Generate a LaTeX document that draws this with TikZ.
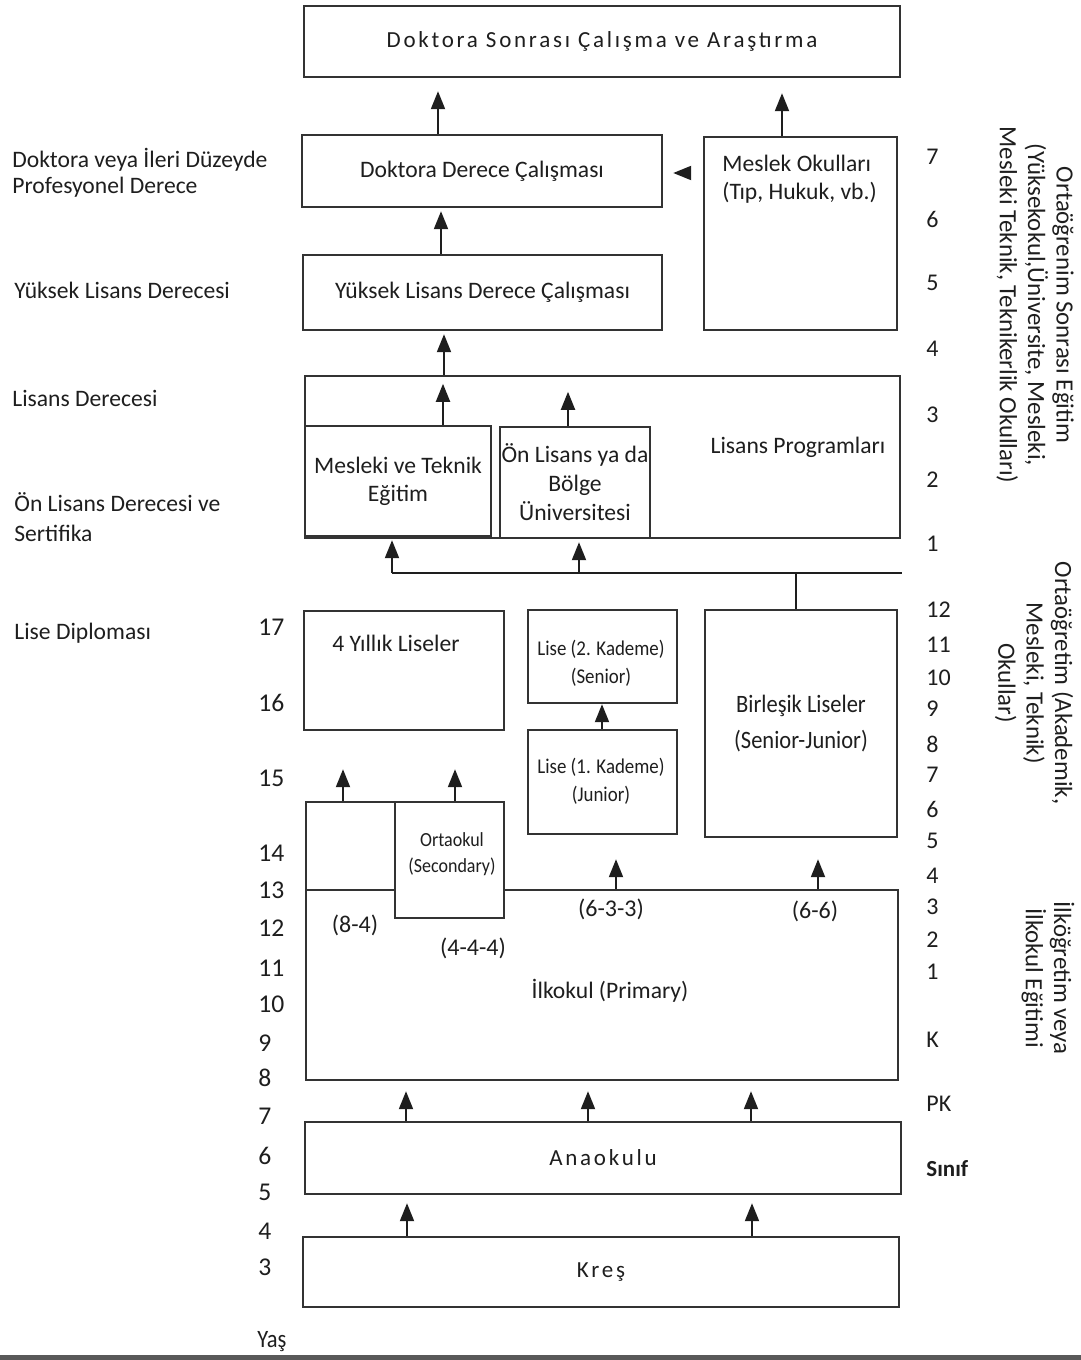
\documentclass[tikz,border=0pt]{standalone}
\usepackage{fontspec}
\setmainfont{Carlito}
\newfontfamily\spacedf[LetterSpace=12]{Carlito}
\newfontfamily\condf[FakeStretch=0.9]{Carlito}
\usetikzlibrary{arrows.meta}
\definecolor{ink}{HTML}{1E1E1E}
\definecolor{edge}{HTML}{333333}
\begin{document}
\begin{tikzpicture}[x=0.5pt,y=-0.5pt,
  box/.style={draw=edge,line width=1.2pt,fill=white,inner sep=0pt,font=\fontsize{11.8}{14}\selectfont,text=ink,align=center},
  sz/.style 2 args={minimum width=#1,minimum height=#2},
  arr/.style={draw=ink,line width=1pt,-{Triangle[length=9pt,width=7pt]}},
  conn/.style={draw=ink,line width=1pt},
  txt/.style={text=ink,font=\fontsize{11.8}{14}\selectfont,align=center,inner sep=0pt},
  lbl/.style={text=ink,font=\fontsize{11.8}{13}\selectfont,align=left,anchor=west,inner sep=0pt},
  age/.style={text=ink,font=\fontsize{12.8}{14}\selectfont,anchor=west,inner sep=0pt},
  grade/.style={text=ink,font=\fontsize{12}{14}\selectfont,anchor=west,inner sep=0pt},
  side/.style={text=ink,font=\fontsize{12.4}{14.2}\selectfont,align=center,rotate=-90,inner sep=0pt},
  spaced/.style={font={\spacedf\fontsize{11.5}{13}\selectfont}},
  small/.style={font={\condf\fontsize{10.5}{14}\selectfont}},
]
\useasboundingbox (0,0) rectangle (1081,1360);
\fill[black!65] (0,1355) rectangle (1081,1360);

% ---------- boxes ----------
\node[box,spaced,sz={298pt}{35.5pt}] (post) at (602,41.5) {Doktora Sonrası Çalışma ve Araştırma};
\node[box,sz={180pt}{36pt}] (dr) at (482,171) {Doktora Derece Çalışması};
\node[box,sz={96.5pt}{96.5pt}] (prof) at (800.5,233.5) {};
\node[txt,align=left,anchor=west] (proft) at (722,179) {Meslek Okulları\\(Tıp, Hukuk, vb.)};
\node[box,sz={179.5pt}{37.5pt}] (ms) at (482.5,292.5) {Yüksek Lisans Derece Çalışması};
\node[box,sz={297.5pt}{81pt}] (lic) at (602.5,457) {};
\node[txt] (lict) at (798,447) {Lisans Programları};
\node[box,sz={93pt}{55pt}] (voc) at (398,481) {Mesleki ve Teknik\\Eğitim};
\node[box,font=\fontsize{11.8}{14.5}\selectfont,sz={75pt}{55.5pt}] (assoc) at (575,482.5) {Ön Lisans ya da\\Bölge\\Üniversitesi};

\node[box,sz={100pt}{59.5pt}] (hs4) at (404,670.5) {};
\node[txt] (hs4t) at (396,643) {4 Yıllık Liseler};
\node[box,sz={74.5pt}{46.5pt}] (sr) at (602.5,656.5) {};
\node[txt,small] (srt) at (601,663) {Lise (2. Kademe)\\(Senior)};
\node[box,sz={74.5pt}{52pt}] (jr) at (602.5,782) {};
\node[txt,small] (jrt) at (601,781) {Lise (1. Kademe)\\(Junior)};
\node[box,font={\condf\fontsize{12.5}{18}\selectfont},sz={96pt}{113.5pt}] (comb) at (801,723.5) {Birleşik Liseler\\(Senior-Junior)};

\node[box,sz={296pt}{95pt}] (prim) at (602,985) {};
\node[box,sz={44.5pt}{44pt}] (mid) at (350.5,846) {};
\node[box,sz={54.5pt}{58pt}] (orta) at (449.5,860) {};
\node[txt,font={\condf\fontsize{10}{13}\selectfont}] (ortat) at (452,854) {Ortaokul\\(Secondary)};
\node[txt,font=\fontsize{12}{14}\selectfont] (p84) at (355,925) {(8-4)};
\node[txt,font=\fontsize{12}{14}\selectfont] (p444) at (473,948) {(4-4-4)};
\node[txt,font=\fontsize{12}{14}\selectfont] (p633) at (611,909) {(6-3-3)};
\node[txt,font=\fontsize{12}{14}\selectfont] (p66) at (815,911) {(6-6)};
\node[txt] (primt) at (610,991) {İlkokul (Primary)};

\node[box,spaced,sz={298pt}{36pt}] (kg) at (603,1158) {Anaokulu};
\node[box,spaced,sz={298pt}{35pt}] (nur) at (601,1272) {Kreş};

% ---------- connectors ----------
\draw[arr,shorten >=6.5pt] (438,0 |- dr.north) -- (438,0 |- post.south);
\draw[arr,shorten >=7.5pt] (782,0 |- prof.north) -- (782,0 |- post.south);
\draw[arr,shorten <=7pt,shorten >=5pt] (0,173 -| prof.west) -- (0,173 -| dr.east);
\draw[arr,shorten >=1.5pt] (441,0 |- ms.north) -- (441,0 |- dr.south);
\draw[arr,shorten >=1.5pt] (444,0 |- lic.north) -- (444,0 |- ms.south);
\draw[arr,shorten >=4.5pt] (443,0 |- voc.north) -- (443,0 |- lic.north);
\draw[arr,shorten >=8.5pt] (568,0 |- assoc.north) -- (568,0 |- lic.north);

\coordinate (hubL) at (392,573);
\coordinate (hubM) at (579,573);
\coordinate (hub) at (796,573);
\coordinate (hubR) at (902,573);
\draw[conn] (hubL) -- (hubR);
\draw[arr,shorten >=1.5pt] (hubL) -- (hubL |- voc.south);
\draw[arr,shorten >=1.5pt] (hubM) -- (hubM |- assoc.south);
\draw[conn] (hub) -- (hub |- comb.north);

\draw[arr] (602,0 |- jr.north) -- (602,0 |- sr.south);
\draw[arr,shorten >=19pt] (343,0 |- mid.north) -- (343,0 |- hs4.south);
\draw[arr,shorten >=19pt] (455,0 |- orta.north) -- (455,0 |- hs4.south);
\draw[arr,shorten >=12pt] (616,0 |- prim.north) -- (616,0 |- jr.south);
\draw[arr,shorten >=10.5pt] (818,0 |- prim.north) -- (818,0 |- comb.south);

\foreach \xx in {406,588,751}
  \draw[arr,shorten >=5pt] (\xx,0 |- kg.north) -- (\xx,0 |- prim.south);
\foreach \xx in {407,752}
  \draw[arr,shorten >=4pt] (\xx,0 |- nur.north) -- (\xx,0 |- kg.south);

% ---------- left labels ----------
\node[lbl] (l1) at (12,173) {Doktora veya İleri Düzeyde\\Profesyonel Derece};
\node[lbl] (l2) at (14,290) {Yüksek Lisans Derecesi};
\node[lbl] (l3) at (12,398) {Lisans Derecesi};
\node[lbl,font=\fontsize{11.8}{15}\selectfont] (l4) at (14,517) {Ön Lisans Derecesi ve\\Sertifika};
\node[lbl] (l5) at (14,633) {Lise Diploması};

% ---------- ages ----------
\foreach \t/\yy in {17/627,16/703,15/778,14/853,13/890,12/928,11/968,10/1004,9/1043,8/1078,7/1116,6/1156,5/1192,4/1231,3/1267}
  \node[age] (a\t) at (258,\yy) {\t};
\node[age,font={\condf\fontsize{12.5}{14}\selectfont}] (yas) at (257,1342) {Yaş};

% ---------- grades ----------
\foreach \t/\yy [count=\i] in {7/157,6/219,5/283,4/349,3/415,2/480,1/544,12/610,11/645,10/678,9/709,8/744,7/775,6/809,5/841,4/876,3/907,2/940,1/972,K/1040,PK/1104}
  \node[grade] (g\i) at (926,\yy) {\t};
\node[grade,font=\bfseries\fontsize{11.5}{14}\selectfont] (sinif) at (926,1169) {Sınıf};

% ---------- side labels ----------
\node[side] (s1) at (1035,305) {Ortaöğrenim Sonrası Eğitim\\(Yüksekokul,Üniversite, Mesleki,\\Mesleki Teknik, Teknikerlik Okulları)};
\node[side] (s2) at (1034,683) {Ortaöğretim (Akademik,\\Mesleki, Teknik)\\Okullar)};
\node[side] (s3) at (1048,978) {İlköğretim veya\\İlkokul Eğitimi};
\end{tikzpicture}
\end{document}
